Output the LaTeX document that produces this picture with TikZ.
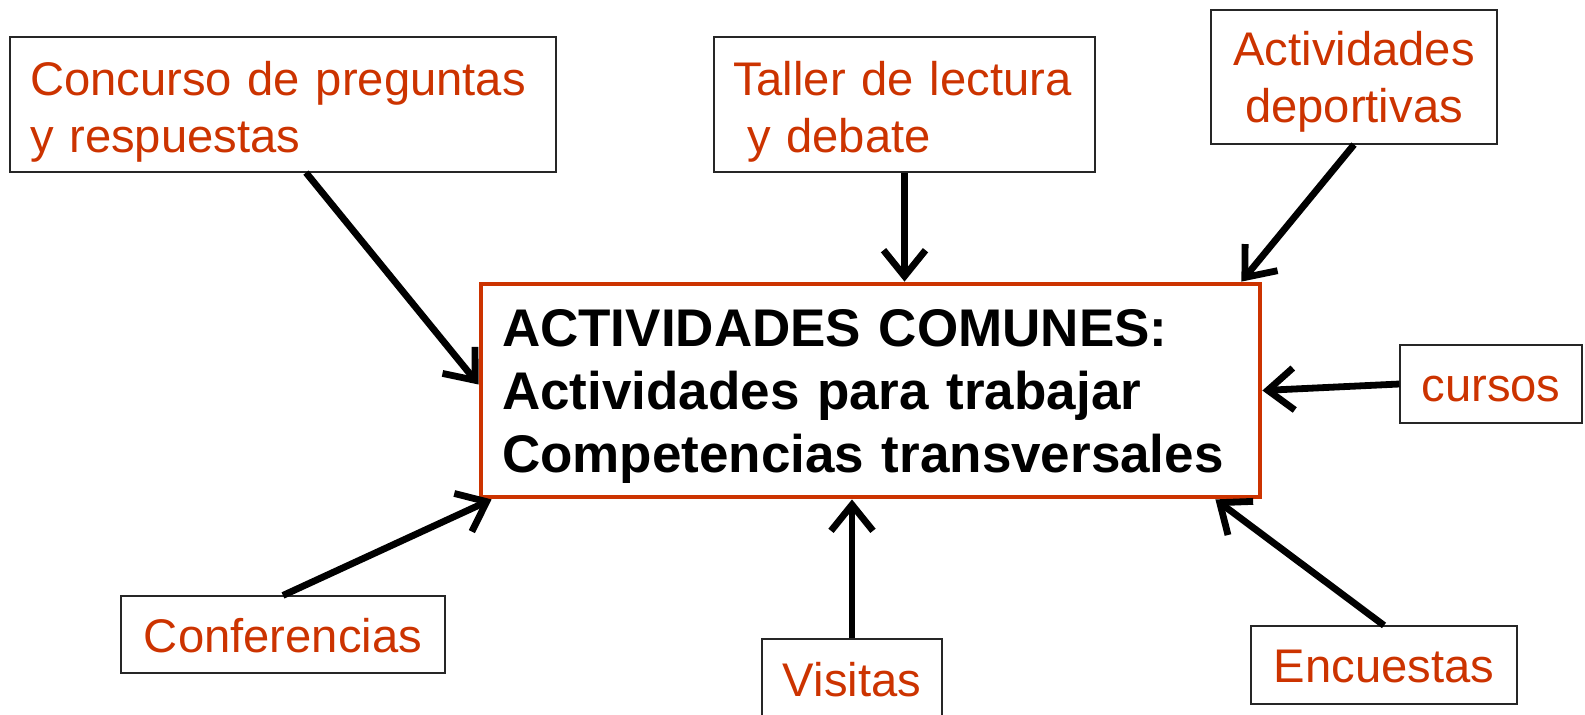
\documentclass[tikz,border=0pt]{standalone}
\usepackage{fontspec}
\setmainfont{Liberation Sans}
\usetikzlibrary{arrows.meta}
\definecolor{actred}{RGB}{204,51,0}
\tikzset{
  actbox/.style={draw=black!85, line width=0.6pt, text=actred,
    font=\fontsize{23.6}{28.5}\selectfont, align=left, inner sep=0pt},
  oneline/.style={text height=22.5pt, text depth=5pt},
  twoline/.style={text height=24pt, text depth=33.5pt},
  mainbox/.style={draw=actred, line width=2.4pt, align=left,
    font=\fontsize{26.5}{31.5}\selectfont\bfseries,
    inner xsep=10.5pt, text width=368.5pt, minimum height=106.5pt,
    text height=24.1pt, text depth=68.6pt},
  feed/.style={-{Straight Barb[length=13pt,width=21pt]}, line width=3.4pt}
}

\begin{document}
\begin{tikzpicture}[x=0.5pt,y=-0.5pt]
  \useasboundingbox (0,0) rectangle (1585,714);
  % centre
  \node [mainbox] (main) at (870.5,390.5)
    {ACTIVIDADES COMUNES:\\Actividades para trabajar\\Competencias transversales};
  % actividades alrededor
  \node [actbox, twoline, minimum width=273pt, minimum height=67.5pt, inner xsep=10pt,
    text width=253pt] (concurso) at (283,104.5) {Concurso de preguntas\\y respuestas};
  \node [actbox, twoline, minimum width=190.5pt, minimum height=67.5pt, inner xsep=9.5pt,
    text width=171.5pt] (taller) at (904.5,104.5) {Taller de lectura\\\hspace*{0.3em}y debate};
  \node [actbox, twoline, text height=21.5pt, align=center, minimum width=143pt,
    minimum height=67pt, inner xsep=5pt, text width=133pt] (deportes) at (1354,77)
    {Actividades\\deportivas};
  \node [actbox, oneline, minimum width=91pt, minimum height=39pt] (cursos) at (1491,384) {cursos};
  \node [actbox, oneline, minimum width=162pt, minimum height=38.5pt] (conf) at (283,634.5) {Conferencias};
  \node [actbox, oneline, minimum width=90pt, minimum height=40pt] (visitas) at (852,679) {Visitas};
  \node [actbox, oneline, minimum width=133pt, minimum height=39pt] (encuestas) at (1384,665) {Encuestas};
  % flechas
  \draw [feed] ([xshift=11.5pt]concurso.south) -- ([yshift=3pt]main.west);
  \draw [feed] (taller.south) -- (taller.south |- main.north);
  \draw [feed] (deportes.south) -- ([xshift=-10.5pt]main.north east);
  \draw [feed] (cursos.west) -- (main.east);
  \draw [feed] (conf.north) -- ([xshift=6.5pt]main.south west);
  \draw [feed] (visitas.north) -- (visitas.north |- main.south);
  \draw [feed] (encuestas.north) -- ([xshift=-23.5pt]main.south east);
\end{tikzpicture}
\end{document}
